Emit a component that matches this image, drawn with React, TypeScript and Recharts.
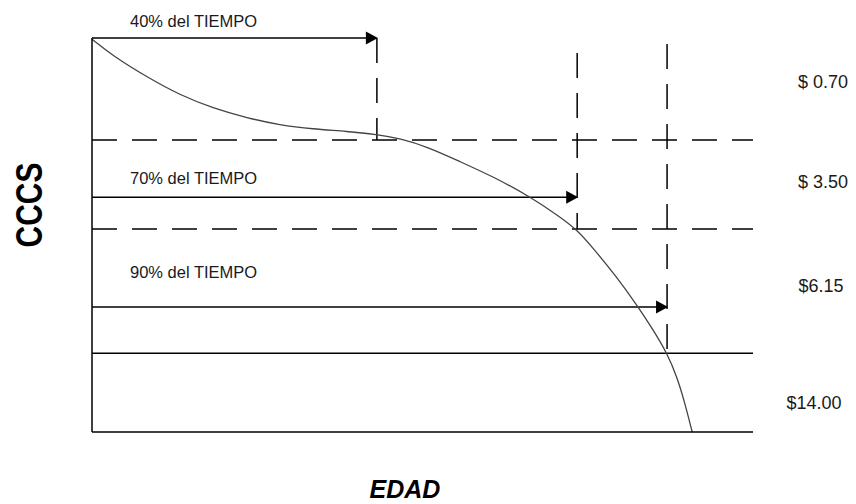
import { ComposedChart, Line, XAxis, YAxis, ReferenceLine, ReferenceDot } from "recharts";

// age (0-100 of the axis) vs accumulated cost (0-100 of the axis)
const curveAge = [0, 3.2, 8.3, 13.3, 18.3, 23.5, 28.4, 33.4, 38.6, 43.1, 46.6, 50.7, 55.7, 60.7, 66.3, 70.8, 73.4, 75.8, 79.4, 82.6, 84.9, 87.0, 88.5, 89.7, 90.8];
const curveCost = [99.7, 95.4, 90.1, 85.5, 82.2, 79.7, 77.9, 76.9, 76.3, 75.5, 74.5, 72.4, 68.6, 64.8, 59.7, 54.6, 51.3, 46.7, 39.3, 31.8, 25.9, 20.0, 14.0, 7.3, 0];

const timeLabels = ["40% del TIEMPO", "70% del TIEMPO", "90% del TIEMPO"];
const timeAges = [43.1, 73.4, 87.0];
const arrowLevels = [100, 59.6, 31.7];
const cutoffTops = [100, 96.2, 98.5];
const cutoffBottoms = [74.1, 51.5, 20];

const dashedLevels = [74.1, 51.5];
const solidLevels = [20];

const priceLabels = ["$ 0.70", "$ 3.50", "$6.15", "$14.00"];
const priceLevels = [88.9, 63.6, 37.2, 7.4];

const data = curveAge.map((x, i) => ({ x, y: curveCost[i] }));

const FONT = "'Liberation Sans', Arial, sans-serif";
const INK = "#1a1a1a";
const labelDy = [-11, -13, -29];
const priceDx = [70, 70, 68, 61];

const Arrowhead = ({ cx, cy }: any) => (
  <polygon points={`${cx + 1},${cy} ${cx - 11},${cy - 6.5} ${cx - 11},${cy + 6.5}`} fill="#000" />
);

const timeLabel = (i: number) => ({ cx, cy }: any) => (
  <text x={cx + 38} y={cy + labelDy[i]} fontFamily={FONT} fontSize={16.5} fill={INK}>
    {timeLabels[i]}
  </text>
);

const priceLabel = (i: number) => ({ cx, cy }: any) => (
  <text x={cx + priceDx[i]} y={cy} dy="0.36em" textAnchor="middle" fontFamily={FONT} fontSize={18} fill={INK}>
    {priceLabels[i]}
  </text>
);

const edadLabel = (props: any) => {
  const vb = props.viewBox;
  return (
    <text
      x={vb.x + vb.width / 2 - 17.5}
      y={vb.y + 66}
      textAnchor="middle"
      fontFamily={FONT}
      fontSize={25}
      fontWeight="bold"
      fontStyle="italic"
      fill="#000"
    >
      EDAD
    </text>
  );
};

const cccsLabel = (props: any) => {
  const vb = props.viewBox;
  return (
    <text
      transform={`translate(${vb.x + 20.5},${vb.y + 167}) rotate(-90) scale(1,1.25)`}
      x={0}
      y={10.7}
      textAnchor="middle"
      fontFamily={FONT}
      fontSize={30}
      fontWeight="bold"
      fill="#000"
    >
      CCCS
    </text>
  );
};

export default function App() {
  return (
    <ComposedChart width={840} height={496} data={data} margin={{ top: 30, right: 95, bottom: 0, left: 0 }}>
      <XAxis
        dataKey="x"
        type="number"
        domain={[0, 100]}
        tick={false}
        tickLine={false}
        axisLine={{ stroke: "#000", strokeWidth: 1.5 }}
        height={72}
        label={edadLabel}
      />
      <YAxis
        type="number"
        domain={[0, 100]}
        tick={false}
        tickLine={false}
        axisLine={{ stroke: "#000", strokeWidth: 1.5 }}
        width={84}
        label={cccsLabel}
      />

      {dashedLevels.map((lvl) => (
        <ReferenceLine key={`d${lvl}`} y={lvl} stroke="#000" strokeWidth={1.5} strokeDasharray="25 15" />
      ))}
      {solidLevels.map((lvl) => (
        <ReferenceLine key={`s${lvl}`} y={lvl} stroke="#000" strokeWidth={1.5} />
      ))}

      {timeAges.map((age, i) => (
        <ReferenceLine
          key={`v${i}`}
          segment={[
            { x: age, y: cutoffTops[i] },
            { x: age, y: cutoffBottoms[i] },
          ]}
          stroke="#000"
          strokeWidth={1.5}
          strokeDasharray="25 15"
        />
      ))}

      {timeAges.map((age, i) => (
        <ReferenceLine
          key={`a${i}`}
          segment={[
            { x: 0, y: arrowLevels[i] },
            { x: age - 1, y: arrowLevels[i] },
          ]}
          stroke="#000"
          strokeWidth={1.5}
        />
      ))}
      {timeAges.map((age, i) => (
        <ReferenceDot key={`h${i}`} x={age} y={arrowLevels[i]} r={0} shape={Arrowhead} />
      ))}
      {timeAges.map((_, i) => (
        <ReferenceDot key={`t${i}`} x={0} y={arrowLevels[i]} r={0} shape={timeLabel(i)} />
      ))}
      {priceLevels.map((lvl, i) => (
        <ReferenceDot key={`p${i}`} x={100} y={lvl} r={0} shape={priceLabel(i)} />
      ))}

      <Line
        type="basis"
        dataKey="y"
        stroke="#444"
        strokeWidth={1.3}
        dot={false}
        activeDot={false}
        isAnimationActive={false}
      />
    </ComposedChart>
  );
}
